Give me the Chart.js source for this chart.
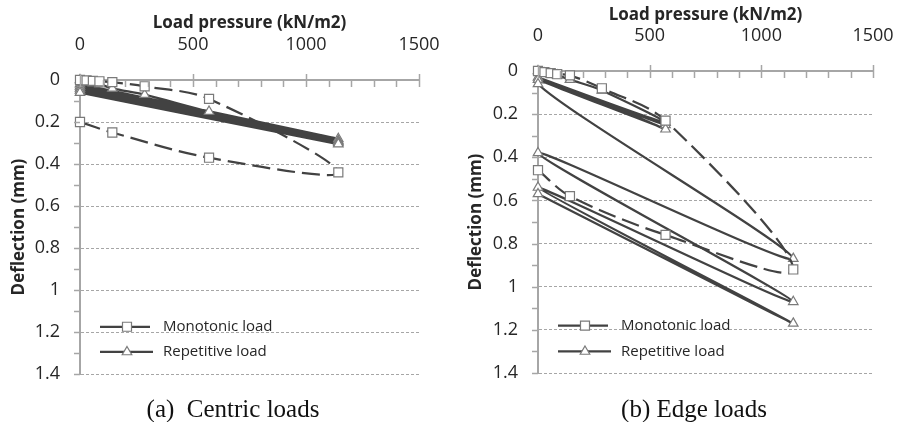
<!DOCTYPE html>
<html>
<head>
<meta charset="utf-8">
<script src="https://cdn.jsdelivr.net/npm/chart.js@4/dist/chart.umd.min.js"></script>
<style>
  body { margin: 0; width: 897px; height: 422px; background: #fff; position: relative; overflow: hidden; }
  canvas { position: absolute; top: 0; }
  .cap { position: absolute; top: 396px; width: 260px; text-align: center; white-space: nowrap;
         font-family: "Liberation Serif", serif; font-size: 25px; line-height: 25px; color: #111; }
</style>
</head>
<body>
<canvas id="chartA" width="470" height="412" style="left:0"></canvas>
<canvas id="chartB" width="470" height="412" style="left:448px"></canvas>
<div class="cap" style="left:103px">(a)&nbsp; Centric loads</div>
<div class="cap" style="left:564px">(b) Edge loads</div>
<script>
// axis ticks and labels
const xTicks = [0, 500, 1000, 1500];
const yTicks = [0, 0.2, 0.4, 0.6, 0.8, 1, 1.2, 1.4];
const seriesNames = ['Monotonic load', 'Repetitive load'];
const xTitle = 'Load pressure (kN/m2)';
const yTitle = 'Deflection (mm)';

// (a) centric loads
const centricMonoLoad = [0, 29, 57, 86, 143, 286, 571, 1143, 571, 143, 0];
const centricMonoDefl = [0, 0.002, 0.004, 0.006, 0.01, 0.03, 0.09, 0.44, 0.37, 0.25, 0.2];
const centricRepLoad = [0, 29, 57, 86, 143, 286, 571, 1143, 0, 1143, 0, 1143, 0, 1143, 0, 1143, 0];
const centricRepDefl = [0, 0.01, 0.015, 0.02, 0.04, 0.07, 0.15, 0.28, 0.02, 0.29, 0.03, 0.295, 0.04, 0.30, 0.05, 0.305, 0.06];

// (b) edge loads
const edgeMonoLoad = [0, 29, 57, 86, 143, 286, 571, 1143, 571, 143, 0];
const edgeMonoDefl = [0, 0.005, 0.01, 0.015, 0.02, 0.08, 0.23, 0.92, 0.76, 0.58, 0.46];
const edgeRepLoad = [0, 29, 57, 86, 143, 286, 571, 0, 571, 0, 571, 0, 1143, 0, 1143, 0, 1143, 0];
const edgeRepDefl = [0, 0.01, 0.015, 0.02, 0.04, 0.09, 0.24, 0.03, 0.25, 0.04, 0.27, 0.06, 0.87, 0.38, 1.07, 0.54, 1.17, 0.57];

const lineGrey = '#424242';
const markGrey = '#7a7a7a';
const axisGrey = '#a6a6a6';
const textCol = '#262626';
const FONT = '"Open Sans"';

function pts(xs, ys) {
    return xs.map((x, i) => ({ x: x, y: ys[i] }));
}

// minor / major tick marks like the spreadsheet axes
const tickMarks = {
    id: 'tickMarks',
    afterDraw(chart) {
        const { ctx, chartArea, scales } = chart;
        const x = scales.x, y = scales.y;
        ctx.save();
        ctx.strokeStyle = axisGrey;
        ctx.lineWidth = 1.5;
        for (let v = 0; v <= 1500; v += 100) {
            const px = Math.round(x.getPixelForValue(v)) + 0.5;
            const major = v % 500 === 0;
            ctx.beginPath();
            ctx.moveTo(px, chartArea.top - (major ? 6 : 0));
            ctx.lineTo(px, chartArea.top + 7);
            ctx.stroke();
        }
        for (let k = 1; k <= 14; k++) {
            const py = Math.round(y.getPixelForValue(k / 10)) + 0.5;
            ctx.beginPath();
            ctx.moveTo(chartArea.left - 6, py);
            ctx.lineTo(chartArea.left, py);
            ctx.stroke();
        }
        ctx.restore();
    }
};

function marker(ctx, style, cx, cy) {
    ctx.beginPath();
    if (style === 'rect') {
        ctx.rect(cx - 4.5, cy - 4.5, 9, 9);
    } else {
        ctx.moveTo(cx, cy - 5.5);
        ctx.lineTo(cx + 4.8, cy + 2.8);
        ctx.lineTo(cx - 4.8, cy + 2.8);
        ctx.closePath();
    }
    ctx.fillStyle = '#fff';
    ctx.fill();
    ctx.strokeStyle = markGrey;
    ctx.lineWidth = 1.2;
    ctx.stroke();
}

// legend sits inside the plot, lower left
const innerLegend = {
    id: 'innerLegend',
    afterDraw(chart, args, opts) {
        const { ctx, chartArea, scales } = chart;
        ctx.save();
        chart.data.datasets.forEach((ds, i) => {
            const yy = scales.y.getPixelForValue(opts.rows[i]);
            const x0 = chartArea.left + 20, x1 = chartArea.left + 73;
            ctx.strokeStyle = lineGrey;
            ctx.lineWidth = 2.25;
            // dash-square-dash for the dashed series
            ctx.setLineDash(ds.borderDash ? [22, 6] : []);
            ctx.beginPath();
            ctx.moveTo(x0, yy);
            ctx.lineTo(x1, yy);
            ctx.stroke();
            ctx.setLineDash([]);
            marker(ctx, ds.pointStyle, chartArea.left + 47, yy);
            ctx.fillStyle = textCol;
            ctx.font = '15px ' + FONT;
            ctx.textBaseline = 'middle';
            ctx.fillText(ds.label, chartArea.left + 83, yy);
        });
        ctx.restore();
    }
};

function makeChart(id, mono, rep, geo) {
    const ctx = document.getElementById(id).getContext('2d');
    return new Chart(ctx, {
        type: 'line',
        data: {
            datasets: [{
                label: seriesNames[0],
                data: mono,
                borderColor: lineGrey,
                borderWidth: 2.25,
                borderDash: [18, 7],
                tension: 0.33,
                pointStyle: 'rect',
                pointRadius: 6.4,
                pointBackgroundColor: '#fff',
                pointBorderColor: markGrey,
                pointBorderWidth: 1.2,
                clip: false
            }, {
                label: seriesNames[1],
                data: rep,
                borderColor: lineGrey,
                borderWidth: 2.25,
                tension: 0.33,
                pointStyle: 'triangle',
                pointRadius: 5.5,
                pointBackgroundColor: '#fff',
                pointBorderColor: markGrey,
                pointBorderWidth: 1.2,
                clip: false
            }]
        },
        options: {
            responsive: false,
            animation: false,
            layout: { padding: { left: 0, top: 0, right: geo.padRight, bottom: geo.padBottom } },
            plugins: {
                legend: { display: false },
                tooltip: { enabled: false },
                innerLegend: { rows: geo.legendRows }
            },
            scales: {
                x: {
                    type: 'linear',
                    position: 'top',
                    min: 0, max: 1500,
                    afterBuildTicks: s => { s.ticks = xTicks.map(v => ({ value: v })); },
                    afterFit: s => { s.height = geo.top; },
                    grid: { display: false },
                    border: { display: true, color: axisGrey, width: 2 },
                    ticks: { color: textCol, font: { family: FONT, size: 18 }, padding: geo.xTickPad,
                             maxRotation: 0, callback: v => String(v) },
                    title: { display: true, text: xTitle, color: textCol,
                             font: { family: FONT, size: 17, weight: 'bold' }, padding: { top: geo.xTitlePad, bottom: 0 } }
                },
                y: {
                    type: 'linear',
                    reverse: true,
                    min: 0, max: 1.4,
                    afterBuildTicks: s => { s.ticks = yTicks.map(v => ({ value: v })); },
                    afterFit: s => { s.width = geo.left; },
                    grid: {
                        drawTicks: false,
                        color: c => (c.tick && c.tick.value === 0) ? 'rgba(0,0,0,0)' : axisGrey,
                        lineWidth: 1
                    },
                    border: { display: true, color: axisGrey, width: 2, dash: [3, 2] },
                    ticks: { color: textCol, font: { family: FONT, size: 18 }, padding: geo.yTickPad,
                             callback: v => String(Math.round(v * 10) / 10) },
                    title: { display: true, text: yTitle, color: textCol,
                             font: { family: FONT, size: 17, weight: 'bold' }, padding: { top: geo.yTitlePad, bottom: 0 } }
                }
            }
        },
        plugins: [tickMarks, innerLegend]
    });
}

// plot box: left 80..419, top 80..374
makeChart('chartA',
    pts(centricMonoLoad, centricMonoDefl),
    pts(centricRepLoad, centricRepDefl),
    { left: 80, top: 80, padRight: 51, padBottom: 38, xTickPad: 16, xTitlePad: 13,
      yTickPad: 20, yTitlePad: 9, legendRows: [1.175, 1.295] });

// plot box: left 538..873, top 71..373 (canvas starts at 448)
makeChart('chartB',
    pts(edgeMonoLoad, edgeMonoDefl),
    pts(edgeRepLoad, edgeRepDefl),
    { left: 90, top: 71, padRight: 45, padBottom: 39, xTickPad: 16, xTitlePad: 5,
      yTickPad: 20, yTitlePad: 18, legendRows: [1.18, 1.30] });
</script>
</body>
</html>
